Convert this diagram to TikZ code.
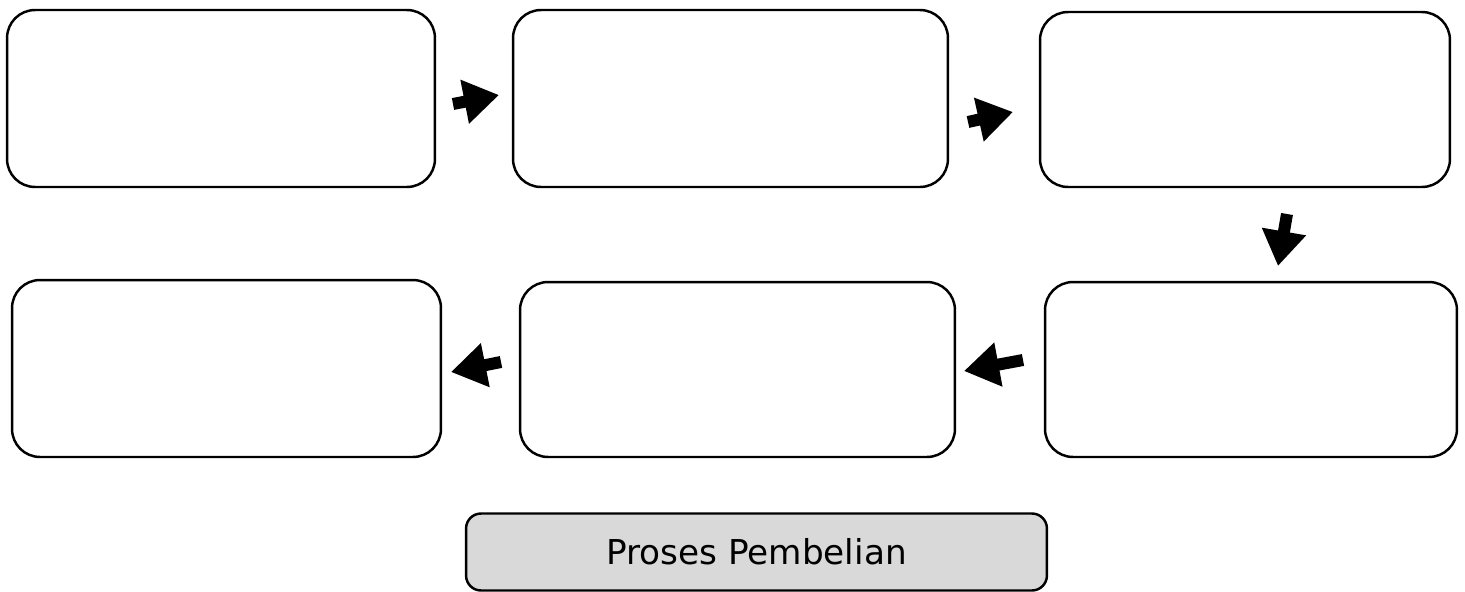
\documentclass[tikz,border=0pt]{standalone}
\usepackage{fontspec}
\setmainfont{DejaVu Sans}
\usetikzlibrary{arrows.meta}

\begin{document}
\begin{tikzpicture}[x=0.02cm, y=-0.02cm,
  pbox/.style={draw, line width=1.4pt, rounded corners=0.56cm, inner sep=0pt, minimum height=3.54cm},
  tbox/.style={draw, line width=1.4pt, rounded corners=0.3cm, fill=gray!30, inner sep=0pt, minimum width=11.62cm, minimum height=1.54cm},
  blk/.style={line width=0.24cm, -{Triangle[length=0.7cm, width=0.85cm]}}]
  \useasboundingbox (0,0) rectangle (1465,592);
  \node[pbox, minimum width=8.56cm] (b1) at (221,98.5) {};
  \node[pbox, minimum width=8.70cm] (b2) at (730.5,98.5) {};
  \node[pbox, minimum width=8.20cm, minimum height=3.50cm] (b3) at (1245,99.5) {};
  \node[pbox, minimum width=8.24cm, minimum height=3.50cm] (b6) at (1251,369.5) {};
  \node[pbox, minimum width=8.70cm, minimum height=3.50cm] (b5) at (737.5,369.5) {};
  \node[pbox, minimum width=8.58cm] (b4) at (226.5,368.5) {};
  \node[tbox, font=\fontsize{19.5}{23}\selectfont, text height=2.6ex, text depth=0pt] (title) at (756.5,552) {Proses Pembelian};
  % arrows between the boxes
  \coordinate (t1) at (453,104); \coordinate (h1) at (499,95);
  \coordinate (t2) at (968,122); \coordinate (h2) at (1013,112);
  \coordinate (t3) at (1287,214); \coordinate (h3) at (1278,266);
  \coordinate (t4) at (1023,360); \coordinate (h4) at (964,371);
  \coordinate (t5) at (501,362); \coordinate (h5) at (451,372);
  \draw[blk] (t1)--(h1); \draw[blk] (t2)--(h2); \draw[blk] (t3)--(h3);
  \draw[blk] (t4)--(h4); \draw[blk] (t5)--(h5);
\end{tikzpicture}
\end{document}
